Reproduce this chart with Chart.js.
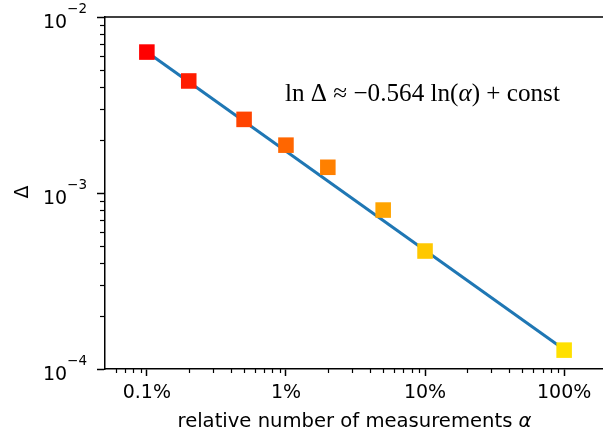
<!DOCTYPE html>
<html>
<head>
<meta charset="utf-8">
<script src="https://cdn.jsdelivr.net/npm/chart.js@4.4.1/dist/chart.umd.min.js"></script>
<style>
html, body { margin: 0; padding: 0; background: #fff; overflow: hidden; }
</style>
</head>
<body>
<canvas id="lawChart" width="607" height="439"></canvas>
<script>
var alphas = [0.001, 0.002, 0.005, 0.01, 0.02, 0.05, 0.1, 1];
var deltas = [0.00632, 0.00433, 0.00262, 0.00187, 0.00140, 0.00080, 0.000468, 0.000128];
var markerColors = ['#ff0000', '#ff1c00', '#ff4400', '#ff6600', '#ff8000', '#ffa400', '#ffc800', '#ffe000'];

// fitted power law (end points of the blue line)
var fitAlphas = [0.001, 1];
var fitDeltas = [0.00632, 0.000129];

// ticks
var xMajor = [0.001, 0.01, 0.1, 1];
var xLabels = ['0.1%', '1%', '10%', '100%'];
var yMajor = [1e-4, 1e-3, 1e-2];
var yExponents = ['\u22124', '\u22123', '\u22122'];

var sansFont = '"DejaVu Sans", sans-serif';
var serifFont = '"Liberation Serif", "DejaVu Serif", serif';

function minorTicks(lo, hi) {
  var out = [];
  for (var e = Math.floor(Math.log10(lo)); e <= Math.ceil(Math.log10(hi)); e++) {
    for (var m = 2; m <= 9; m++) {
      var v = m * Math.pow(10, e);
      if (v > lo * 1.0001 && v < hi * 0.9999) out.push(v);
    }
  }
  return out;
}

// spines, minor ticks, superscript labels and texts
var decorPlugin = {
  id: 'decor',
  afterDraw: function (chart) {
    var c = chart.ctx, a = chart.chartArea;
    var xs = chart.scales.x, ys = chart.scales.y;
    c.save();
    c.strokeStyle = '#000';
    c.lineWidth = 1.5;

    // top spine
    c.beginPath();
    c.moveTo(a.left, a.top);
    c.lineTo(a.right, a.top);
    c.stroke();

    // minor ticks
    c.lineWidth = 1.2;
    minorTicks(xs.min, xs.max).forEach(function (v) {
      var px = Math.round(xs.getPixelForValue(v)) + 0.5;
      c.beginPath(); c.moveTo(px, a.bottom); c.lineTo(px, a.bottom + 4); c.stroke();
    });
    minorTicks(ys.min, ys.max).forEach(function (v) {
      var py = Math.round(ys.getPixelForValue(v)) + 0.5;
      c.beginPath(); c.moveTo(a.left - 5, py); c.lineTo(a.left, py); c.stroke();
    });

    // y tick labels 10^n
    c.fillStyle = '#000';
    c.textBaseline = 'alphabetic';
    yMajor.forEach(function (v, i) {
      var py = ys.getPixelForValue(v);
      c.font = '13.5px ' + sansFont;
      var supW = c.measureText(yExponents[i]).width;
      var right = a.left - 18;
      c.textAlign = 'right';
      c.fillText(yExponents[i], right, py - 4);
      c.font = '19px ' + sansFont;
      c.fillText('10', right - supW, py + 11);
    });

    // y axis title
    c.save();
    c.translate(23, ys.getPixelForValue(1e-3) - 1);
    c.rotate(-Math.PI / 2);
    c.font = '19px ' + sansFont;
    c.textAlign = 'center';
    c.textBaseline = 'middle';
    c.fillText('\u0394', 0, 0);
    c.restore();

    // x axis title with italic alpha
    var t1 = 'relative number of measurements ', t2 = '\u03b1';
    var fs = 19.6;
    c.font = fs + 'px ' + sansFont;
    var w1 = c.measureText(t1).width;
    c.font = 'italic ' + fs + 'px ' + sansFont;
    var w2 = c.measureText(t2).width;
    var x0 = 354.5 - (w1 + w2) / 2;
    c.textAlign = 'left';
    c.font = fs + 'px ' + sansFont;
    c.fillText(t1, x0, 427);
    c.font = 'italic ' + fs + 'px ' + sansFont;
    c.fillText(t2, x0 + w1, 427);

    // annotation
    var parts = [['ln \u0394 \u2248 \u22120.564 ln(', ''], ['\u03b1', 'italic '], [') + const', '']];
    var size = 20;
    var total = 0;
    parts.forEach(function (p) { c.font = p[1] + size + 'px ' + serifFont; total += c.measureText(p[0]).width; });
    size = size * 275 / total;
    var px = 285;
    parts.forEach(function (p) {
      c.font = p[1] + size + 'px ' + serifFont;
      c.fillText(p[0], px, 101);
      px += c.measureText(p[0]).width;
    });

    c.restore();
  }
};

var ctx = document.getElementById('lawChart').getContext('2d');

var lawChart = new Chart(ctx, {
  type: 'scatter',
  data: {
    datasets: [
      {
        type: 'line',
        label: 'fit',
        data: fitAlphas.map(function (x, i) { return { x: x, y: fitDeltas[i] }; }),
        borderColor: '#1f77b4',
        borderWidth: 3,
        pointRadius: 0,
        fill: false,
        order: 2
      },
      {
        label: 'measurements',
        data: alphas.map(function (x, i) { return { x: x, y: deltas[i] }; }),
        pointStyle: 'rect',
        pointRadius: 11,
        pointHoverRadius: 11,
        backgroundColor: markerColors,
        borderColor: markerColors,
        borderWidth: 0,
        order: 1
      }
    ]
  },
  options: {
    responsive: false,
    animation: false,
    devicePixelRatio: 1,
    layout: { autoPadding: false, padding: { top: 17, right: 1, left: 0, bottom: 0 } },
    plugins: {
      legend: { display: false },
      tooltip: { enabled: false }
    },
    scales: {
      x: {
        type: 'logarithmic',
        min: 0.0005,
        max: 2,
        afterBuildTicks: function (s) { s.ticks = xMajor.map(function (v) { return { value: v }; }); },
        afterFit: function (s) { s.height = 70; },
        ticks: {
          autoSkip: false,
          maxRotation: 0,
          padding: 6,
          color: '#000',
          font: { family: sansFont, size: 19 },
          callback: function (v) { var i = xMajor.indexOf(v); return i < 0 ? '' : xLabels[i]; }
        },
        grid: { drawOnChartArea: false, tickLength: 7, tickColor: '#000', tickWidth: 1.5 },
        border: { color: '#000', width: 1.5 }
      },
      y: {
        type: 'logarithmic',
        min: 1e-4,
        max: 1e-2,
        afterBuildTicks: function (s) { s.ticks = yMajor.map(function (v) { return { value: v }; }); },
        afterFit: function (s) { s.width = 105; },
        ticks: { display: false },
        grid: { drawOnChartArea: false, tickLength: 8, tickColor: '#000', tickWidth: 1.5 },
        border: { color: '#000', width: 1.5 }
      }
    }
  },
  plugins: [decorPlugin]
});
</script>
</body>
</html>
